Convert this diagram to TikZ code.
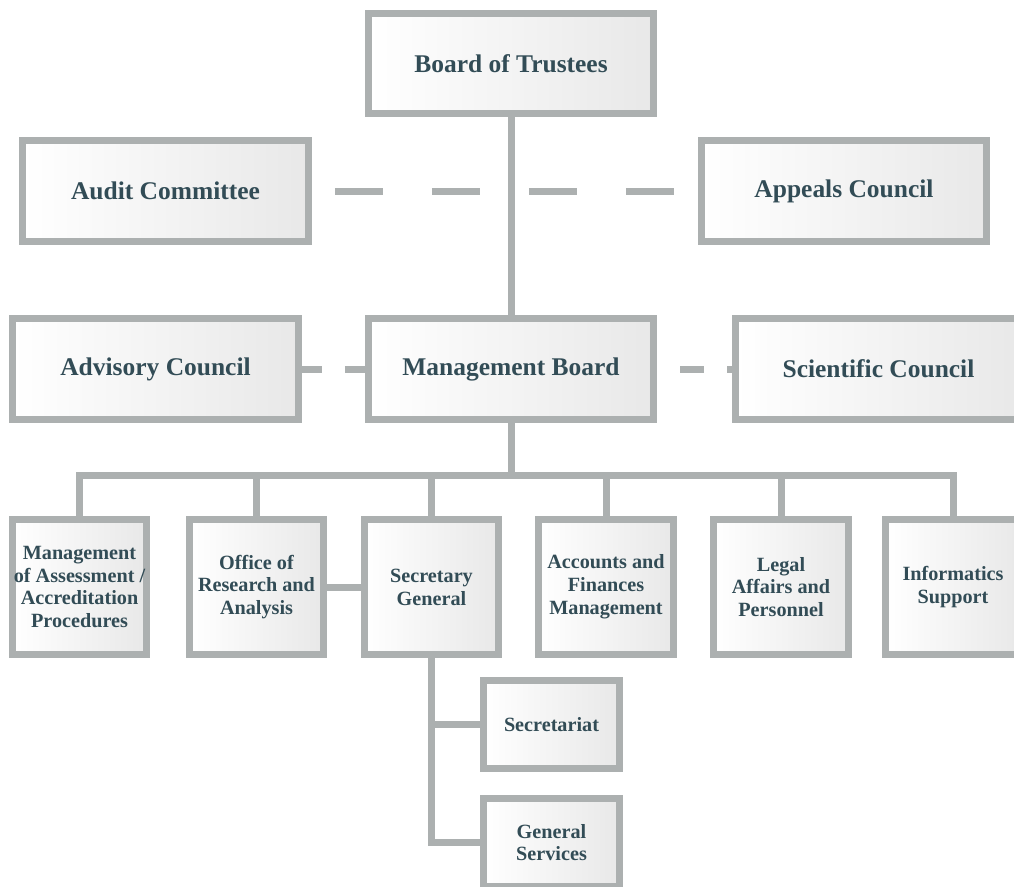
\documentclass[tikz,border=0pt]{standalone}
\usepackage{fontspec}
\setmainfont{Liberation Serif}
\definecolor{linegray}{RGB}{172,176,176}
\definecolor{textblue}{RGB}{50,76,86}

\tikzstyle{unit} = [draw=linegray, line width=0.14cm, left color=white, right color=black!9, text=textblue, align=center, inner sep=1pt]
\tikzstyle{body} = [unit, minimum width=5.72cm, minimum height=2.02cm, font=\bfseries\fontsize{14.5}{17}\selectfont]
\tikzstyle{dept} = [unit, minimum width=2.7cm, minimum height=2.7cm, font=\bfseries\fontsize{11.5}{13}\selectfont]
\tikzstyle{sub} = [unit, minimum width=2.72cm, minimum height=1.76cm, font=\bfseries\fontsize{11.5}{13}\selectfont]
\tikzstyle{link} = [draw=linegray, line width=0.14cm]

\begin{document}
\begin{tikzpicture}[x=0.02cm, y=-0.02cm]
	\useasboundingbox (0,0) rectangle (1014,886);
	\clip (0,0) rectangle (1014,886);

	\node[body] (n1) at (511,63.5) {Board of Trustees};
	\node[body] (n2) at (165.5,191) {Audit Committee};
	\node[body] (n3) at (844,191) {Appeals Council};
	\node[body] (n4) at (155.5,369) {Advisory Council};
	\node[body] (n5) at (511,369) {Management Board};
	\node[body] (n6) at (878.5,369) {Scientific Council};

	\node[dept] (n7) at (79.5,587) {Management\\of Assessment /\\Accreditation\\Procedures};
	\node[dept] (n8) at (256.5,587) {Office of\\Research and\\Analysis};
	\node[dept] (n9) at (431.5,587) {Secretary\\General};
	\node[dept] (n10) at (606,587) {Accounts and\\Finances\\Management};
	\node[dept] (n11) at (781,587) {Legal\\Affairs and\\Personnel};
	\node[dept] (n12) at (953,587) {Informatics\\Support};

	\node[sub] (n13) at (551.5,724.5) {Secretariat};
	\node[sub] (n14) at (551.5,842.5) {General\\Services};

	\coordinate (bus) at (511,475);

	\draw[link] (n1) -- (n5);
	\draw[link, dash pattern=on 0.96cm off 0.98cm, dash phase=1.48cm] (n2) -- (n3);
	\draw[link, dash pattern=on 0.4cm off 0.46cm] (n4) -- (n5);
	\draw[link, dash pattern=on 0.48cm off 0.46cm, dash phase=0.48cm] (n5) -- (n6);

	\draw[link] (n5) -- (bus);
	\draw[link] (bus) -| (n7);
	\draw[link] (bus) -| (n8);
	\draw[link] (bus) -| (n9);
	\draw[link] (bus) -| (n10);
	\draw[link] (bus) -| (n11);
	\draw[link] (bus) -| (n12);

	\draw[link] (n8) -- (n9);
	\draw[link] (n9) |- (n13);
	\draw[link] (n9) |- (n14);
\end{tikzpicture}
\end{document}
